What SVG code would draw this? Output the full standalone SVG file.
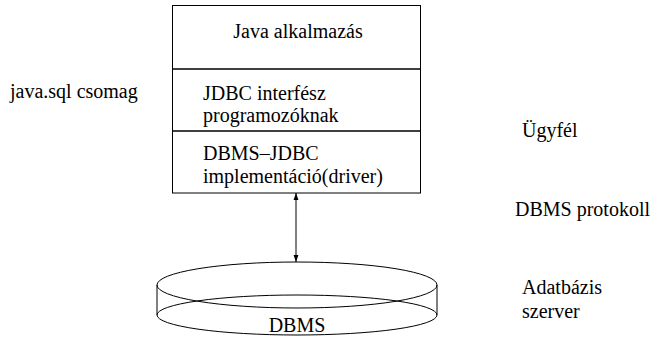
<svg xmlns="http://www.w3.org/2000/svg" width="656" height="339" viewBox="0 0 656 339">
  <style>
    .t { font-size: 20px; fill: #000; }
    .mid { text-anchor: middle; }
    .ln { fill: none; stroke: #000; stroke-width: 1; }
  </style>
  <defs>
    <marker id="ah" viewBox="0 0 10 10" refX="10" refY="5" markerWidth="7" markerHeight="10" orient="auto-start-reverse" markerUnits="userSpaceOnUse">
      <path d="M0,1.5 L10,5 L0,8.5 Z" fill="#000"/>
    </marker>
  </defs>
  <rect width="656" height="339" fill="#fff"/>

  <g font-family="'Liberation Serif', 'Times New Roman', serif">
  <!-- client-side stack -->
  <g id="java-app">
    <rect class="ln" x="172.5" y="5.5" width="248" height="63.5"/>
    <text class="t mid" x="298" y="38">Java alkalmazás</text>
  </g>
  <g id="jdbc-interface">
    <rect class="ln" x="172.5" y="69" width="248" height="62"/>
    <text class="t" x="203" y="100">JDBC interfész</text>
    <text class="t" x="203" y="122">programozóknak</text>
  </g>
  <g id="jdbc-driver">
    <rect class="ln" x="172.5" y="131" width="248" height="62"/>
    <text class="t" x="203" y="160">DBMS–JDBC</text>
    <text class="t" x="203" y="183">implementáció(driver)</text>
  </g>

  <!-- database server drum -->
  <g id="dbms">
    <ellipse class="ln" cx="297" cy="315" rx="140" ry="20"/>
    <line class="ln" x1="157" y1="285" x2="157" y2="315"/>
    <line class="ln" x1="437" y1="285" x2="437" y2="315"/>
    <ellipse cx="297" cy="285" rx="140" ry="23" fill="none" stroke="#000"/>
    <text class="t mid" x="297" y="332">DBMS</text>
  </g>

  <!-- side labels -->
  <g id="labels">
    <text class="t" x="10" y="98">java.sql csomag</text>
    <text class="t" x="522" y="137">Ügyfél</text>
    <text class="t" x="515" y="216">DBMS protokoll</text>
    <text class="t" x="522" y="294">Adatbázis</text>
    <text class="t" x="522" y="318">szerver</text>
  </g>
  </g>

  <g id="connectors">
    <line class="ln" x1="296" y1="193" x2="296" y2="262" marker-start="url(#ah)" marker-end="url(#ah)"/>
  </g>
</svg>
